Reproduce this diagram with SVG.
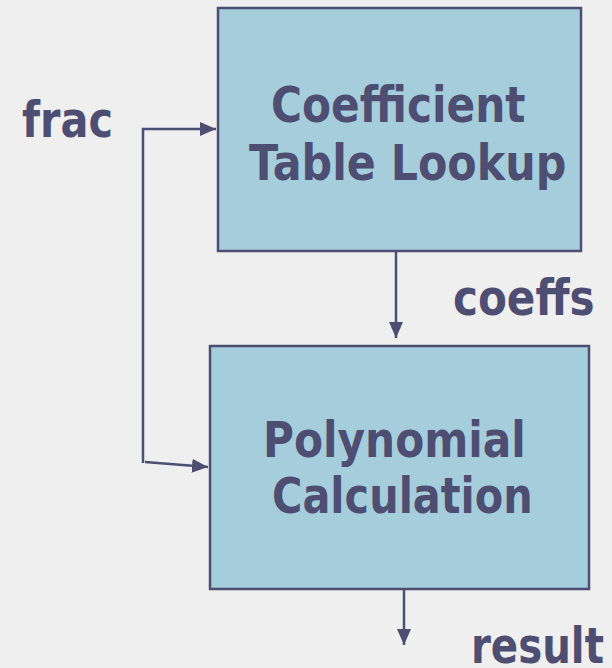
<svg xmlns="http://www.w3.org/2000/svg" width="612" height="668" viewBox="0 0 612 668">
<style>
.box{fill:#a6cddb;stroke:#4e4e72;stroke-width:2.5}
.t{font-family:"DejaVu Sans",Verdana,sans-serif;font-weight:bold;font-size:50px;fill:#4e4e72}
.ln{stroke:#4e4e72;stroke-width:2.5;fill:none}
</style>
<defs>
<marker id="ah2" viewBox="0 0 16 14" refX="16" refY="7" markerWidth="16" markerHeight="14" orient="auto" markerUnits="userSpaceOnUse">
<path d="M0,0 L16,7 L0,14 z" fill="#4e4e72"/>
</marker>
</defs>
<rect width="612" height="668" fill="#efefef"/>
<g id="node-lookup">
<rect class="box" x="218" y="8" width="363" height="243"/>
<text class="t" transform="translate(271,122) scale(0.846,1)">Coefficient</text>
<text class="t" transform="translate(249,180) scale(0.856,1)">Table Lookup</text>
</g>
<g id="node-poly">
<rect class="box" x="210" y="346" width="379" height="243"/>
<text class="t" transform="translate(263,457) scale(0.846,1)">Polynomial</text>
<text class="t" transform="translate(272,513) scale(0.829,1)">Calculation</text>
</g>
<g id="labels">
<text class="t" transform="translate(22,137) scale(0.829,1)">frac</text>
<text class="t" transform="translate(453,315) scale(0.842,1)">coeffs</text>
<text class="t" transform="translate(471,663) scale(0.806,1)">result</text>
</g>
<g id="connectors">
<polyline class="ln" points="143,463 143,129 216,129" marker-end="url(#ah2)"/>
<line class="ln" x1="145" y1="462" x2="208" y2="467" marker-end="url(#ah2)"/>
<line class="ln" x1="396" y1="251" x2="396" y2="338" marker-end="url(#ah2)"/>
<line class="ln" x1="404" y1="589" x2="404" y2="645" marker-end="url(#ah2)"/>
</g>
</svg>
